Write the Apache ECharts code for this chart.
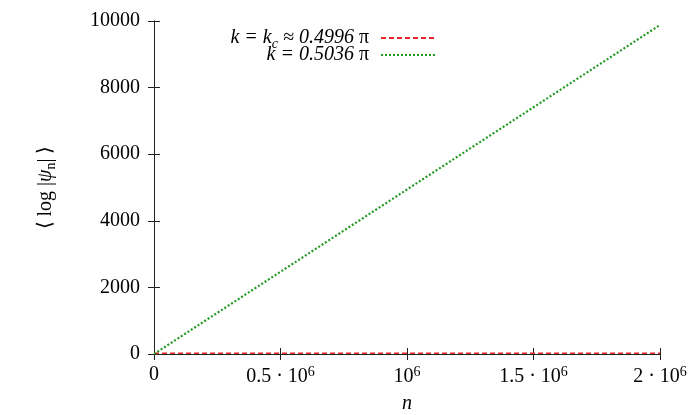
<!DOCTYPE html>
<html>
<head>
<meta charset="utf-8">
<script src="https://cdn.jsdelivr.net/npm/echarts@6/dist/echarts.min.js"></script>
<style>
  html, body { margin: 0; padding: 0; background: #fff; }
  #main { width: 692px; height: 415px; }
</style>
</head>
<body>
<div id="main"></div>
<script>
// n values and <log|psi_n|>
var nValues = [0, 500000, 1000000, 1500000, 2000000];
var critValues = [25, 25, 25, 25, 25];
var superValues = [0, 2470, 4940, 7410, 9880];
var xTickLabels = {
    0: '{t|0}',
    500000: '{t|0.5 · 10}{sup|6}',
    1000000: '{t|10}{sup|6}',
    1500000: '{t|1.5 · 10}{sup|6}',
    2000000: '{t|2 · 10}{sup|6}'
};
var seriesNames = ['crit', 'super'];

var font = 'Liberation Serif';
var chart = echarts.init(document.getElementById('main'));

function pairs(xs, ys) {
    var out = [];
    for (var i = 0; i < xs.length; i++) {
        out.push([xs[i], ys[i]]);
    }
    return out;
}

var tickStyle = { show: true, inside: true, length: 6, lineStyle: { color: '#222', width: 1 } };
var lineStyleAxis = { show: true, lineStyle: { color: '#222', width: 1 } };

var option = {
    animation: false,
    grid: { left: 154, right: 32, top: 21, bottom: 61, outerBoundsMode: 'none', containLabel: false },
    legend: [{
        data: [seriesNames[0]],
        right: 254, top: 28, padding: 0,
        align: 'right',
        itemWidth: 56, itemHeight: 10,
        itemStyle: { opacity: 0 },
        formatter: function() { return '{i|k = k}{s|c}{i| ≈ 0.4996 }{p|π}'; },
        textStyle: {
            rich: {
                i: { fontFamily: font, fontSize: 20, fontStyle: 'italic', color: '#000' },
                s: { fontFamily: font, fontSize: 14, fontStyle: 'italic', color: '#000', verticalAlign: 'bottom', padding: [12, 0, 0, 0] },
                p: { fontFamily: font, fontSize: 20, color: '#000', padding: [0, 7, 0, 0] }
            }
        }
    }, {
        data: [seriesNames[1]],
        right: 254, top: 45, padding: 0,
        align: 'right',
        itemWidth: 56, itemHeight: 10,
        itemStyle: { opacity: 0 },
        formatter: function() { return '{i|k = 0.5036 }{p|π}'; },
        textStyle: {
            rich: {
                i: { fontFamily: font, fontSize: 20, fontStyle: 'italic', color: '#000' },
                p: { fontFamily: font, fontSize: 20, color: '#000', padding: [0, 7, 0, 0] }
            }
        }
    }],
    xAxis: [{
        type: 'value',
        min: 0, max: 2000000, interval: 500000,
        name: 'n',
        nameLocation: 'middle',
        nameGap: 40,
        nameTextStyle: { fontFamily: font, fontSize: 20, fontStyle: 'italic', color: '#000' },
        axisLine: lineStyleAxis,
        axisTick: tickStyle,
        splitLine: { show: false },
        axisLabel: {
            margin: 11,
            formatter: function(v) { return xTickLabels[v]; },
            rich: {
                t: { fontFamily: font, fontSize: 20, color: '#000' },
                sup: { fontFamily: font, fontSize: 14, color: '#000', verticalAlign: 'top', padding: [0, 0, 10, 0] }
            }
        }
    }, {
        type: 'value',
        position: 'top',
        min: 0, max: 2000000, interval: 500000,
        axisLine: lineStyleAxis,
        axisTick: tickStyle,
        axisLabel: { show: false },
        splitLine: { show: false }
    }],
    yAxis: [{
        type: 'value',
        min: 0, max: 10000, interval: 2000,
        name: '{a|⟨ log |}{i|ψ}{s|n}{a|| ⟩}',
        nameLocation: 'middle',
        nameRotate: 90,
        nameGap: 96,
        nameTextStyle: {
            rich: {
                a: { fontFamily: font, fontSize: 20, color: '#000' },
                i: { fontFamily: font, fontSize: 20, fontStyle: 'italic', color: '#000' },
                s: { fontFamily: font, fontSize: 14, color: '#000', verticalAlign: 'bottom', padding: [10, 0, 0, 0] }
            }
        },
        axisLine: lineStyleAxis,
        axisTick: tickStyle,
        splitLine: { show: false },
        axisLabel: {
            margin: 14, fontFamily: font, fontSize: 20, color: '#000',
            formatter: function(v) { return String(v); }
        }
    }, {
        type: 'value',
        position: 'right',
        min: 0, max: 10000, interval: 2000,
        axisLine: lineStyleAxis,
        axisTick: tickStyle,
        axisLabel: { show: false },
        splitLine: { show: false }
    }],
    series: [{
        name: seriesNames[0],
        type: 'line',
        data: pairs(nValues, critValues),
        symbol: 'none',
        lineStyle: { color: '#e8262b', width: 1.5, type: [5, 3] },
        itemStyle: { color: '#e8262b' }
    }, {
        name: seriesNames[1],
        type: 'line',
        data: pairs(nValues, superValues),
        symbol: 'none',
        lineStyle: { color: '#229a22', width: 2.2, type: [2, 2] },
        itemStyle: { color: '#229a22' }
    }]
};
chart.setOption(option);
</script>
</body>
</html>
